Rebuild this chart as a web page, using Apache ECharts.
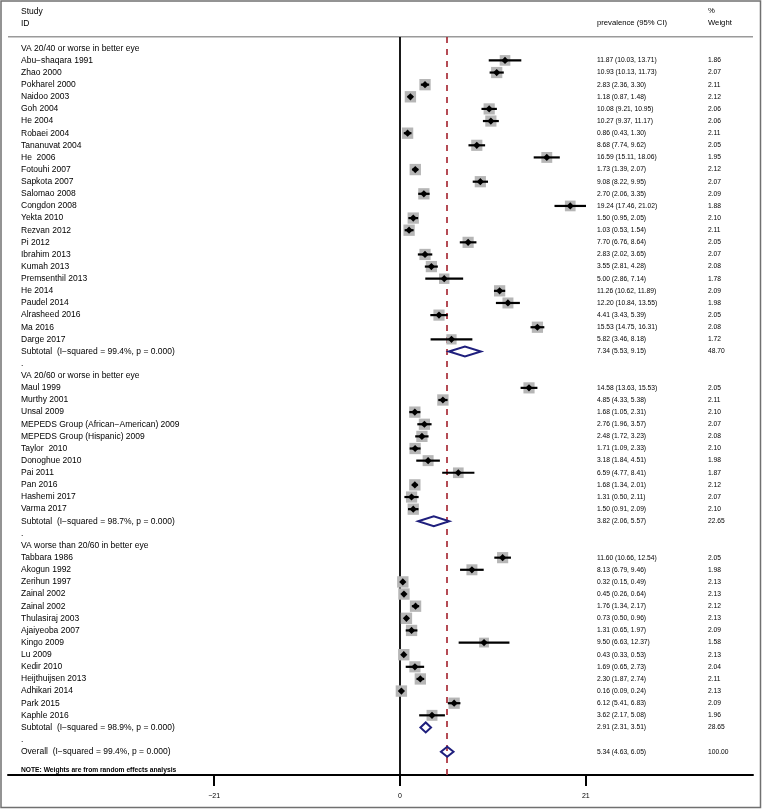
<!DOCTYPE html>
<html><head><meta charset="utf-8">
<script src="https://cdn.jsdelivr.net/npm/echarts@6/dist/echarts.min.js"></script>
<style>html,body{margin:0;padding:0;background:#fff}#c{width:762px;height:809px}</style>
</head><body><div id="c"></div>
<script>
// ---------- DATA ----------
const groupNames = ['VA 20/40 or worse in better eye', 'VA 20/60 or worse in better eye', 'VA worse than 20/60 in better eye'];

const g1Studies = ['Abu\u2212shaqara 1991','Zhao 2000','Pokharel 2000','Naidoo 2003','Goh 2004','He 2004','Robaei 2004','Tananuvat 2004','He  2006','Fotouhi 2007','Sapkota 2007','Salomao 2008','Congdon 2008','Yekta 2010','Rezvan 2012','Pi 2012','Ibrahim 2013','Kumah 2013','Premsenthil 2013','He 2014','Paudel 2014','Alrasheed 2016','Ma 2016','Darge 2017'];
const g1Est = [11.87,10.93,2.83,1.18,10.08,10.27,0.86,8.68,16.59,1.73,9.08,2.70,19.24,1.50,1.03,7.70,2.83,3.55,5.00,11.26,12.20,4.41,15.53,5.82];
const g1Lo  = [10.03,10.13,2.36,0.87,9.21,9.37,0.43,7.74,15.11,1.39,8.22,2.06,17.46,0.95,0.53,6.76,2.02,2.81,2.86,10.62,10.84,3.43,14.75,3.46];
const g1Hi  = [13.71,11.73,3.30,1.48,10.95,11.17,1.30,9.62,18.06,2.07,9.95,3.35,21.02,2.05,1.54,8.64,3.65,4.28,7.14,11.89,13.55,5.39,16.31,8.18];
const g1Wt  = [1.86,2.07,2.11,2.12,2.06,2.06,2.11,2.05,1.95,2.12,2.07,2.09,1.88,2.10,2.11,2.05,2.07,2.08,1.78,2.09,1.98,2.05,2.08,1.72];

const g2Studies = ['Maul 1999','Murthy 2001','Unsal 2009','MEPEDS Group (African\u2212American) 2009','MEPEDS Group (Hispanic) 2009','Taylor  2010','Donoghue 2010','Pai 2011','Pan 2016','Hashemi 2017','Varma 2017'];
const g2Est = [14.58,4.85,1.68,2.76,2.48,1.71,3.18,6.59,1.68,1.31,1.50];
const g2Lo  = [13.63,4.33,1.05,1.96,1.72,1.09,1.84,4.77,1.34,0.50,0.91];
const g2Hi  = [15.53,5.38,2.31,3.57,3.23,2.33,4.51,8.41,2.01,2.11,2.09];
const g2Wt  = [2.05,2.11,2.10,2.07,2.08,2.10,1.98,1.87,2.12,2.07,2.10];

const g3Studies = ['Tabbara 1986','Akogun 1992','Zerihun 1997','Zainal 2002','Zainal 2002','Thulasiraj 2003','Ajaiyeoba 2007','Kingo 2009','Lu 2009','Kedir 2010','Heijthuijsen 2013','Adhikari 2014','Park 2015','Kaphle 2016'];
const g3Est = [11.60,8.13,0.32,0.45,1.76,0.73,1.31,9.50,0.43,1.69,2.30,0.16,6.12,3.62];
const g3Lo  = [10.66,6.79,0.15,0.26,1.34,0.50,0.65,6.63,0.33,0.65,1.87,0.09,5.41,2.17];
const g3Hi  = [12.54,9.46,0.49,0.64,2.17,0.96,1.97,12.37,0.53,2.73,2.74,0.24,6.83,5.08];
const g3Wt  = [2.05,1.98,2.13,2.13,2.12,2.13,2.09,1.58,2.13,2.04,2.11,2.13,2.09,1.96];

const subEst = [7.34, 3.82, 2.91];
const subLo  = [5.53, 2.06, 2.31];
const subHi  = [9.15, 5.57, 3.51];
const subWt  = [48.70, 22.65, 28.65];
const subI2  = ['99.4', '98.7', '98.9'];
const subP   = ['0.000', '0.000', '0.000'];

const overallEst = 5.34, overallLo = 4.63, overallHi = 6.05, overallWt = 100.00, overallI2 = '99.4', overallP = '0.000';

const xTicks = [-21, 0, 21];
const noteText = 'NOTE: Weights are from random effects analysis';

// ---------- BUILD ROWS ----------
const rows = [];
function addGroup(gi, studies, est, lo, hi, wt) {
  rows.push({ label: groupNames[gi], kind: 'head' });
  studies.forEach((s, i) => rows.push({ label: s, est: est[i], lo: lo[i], hi: hi[i], wt: wt[i], kind: 'study' }));
  rows.push({ label: 'Subtotal  (I\u2212squared = ' + subI2[gi] + '%, p = ' + subP[gi] + ')', est: subEst[gi], lo: subLo[gi], hi: subHi[gi], wt: subWt[gi], kind: 'pool' });
  rows.push({ label: '.', kind: 'blank' });
}
addGroup(0, g1Studies, g1Est, g1Lo, g1Hi, g1Wt);
addGroup(1, g2Studies, g2Est, g2Lo, g2Hi, g2Wt);
addGroup(2, g3Studies, g3Est, g3Lo, g3Hi, g3Wt);
rows.push({ label: 'Overall  (I\u2212squared = ' + overallI2 + '%, p = ' + overallP + ')', est: overallEst, lo: overallLo, hi: overallHi, wt: overallWt, kind: 'pool' });

const f2 = v => v.toFixed(2);
const ciText = rows.map(r => (r.kind === 'study' || r.kind === 'pool') ? f2(r.est) + ' (' + f2(r.lo) + ', ' + f2(r.hi) + ')' : '');
const wtText = rows.map(r => (r.kind === 'study' || r.kind === 'pool') ? f2(r.wt) : '');
const rowIdx = rows.map((r, i) => i);

const seriesData = [];
rows.forEach((r, i) => {
  if (r.kind === 'study' || r.kind === 'pool') seriesData.push([r.est, i, r.lo, r.hi, r.wt, r.kind === 'pool' ? 1 : 0]);
});

// ---------- CHART ----------
const FONT = '"Liberation Sans", Arial, Helvetica, sans-serif';
const yMin = -0.93, yMax = 59.92;
const chart = echarts.init(document.getElementById('c'), null, { renderer: 'canvas' });

function yAxisBase(extra) {
  return Object.assign({
    type: 'value', inverse: true, min: yMin, max: yMax,
    axisLine: { show: false }, axisTick: { show: false }, splitLine: { show: false }
  }, extra);
}

chart.setOption({
  animation: false,
  backgroundColor: '#fff',
  grid: { left: 8, right: 9, top: 37, bottom: 34, containLabel: false },
  xAxis: {
    type: 'value', min: -44.29, max: 39.89,
    splitLine: { show: false },
    axisLine: { show: true, onZero: false, lineStyle: { color: '#000', width: 2 } },
    axisTick: { show: true, customValues: xTicks, length: 11, lineStyle: { color: '#000', width: 2 } },
    axisLabel: { show: true, customValues: xTicks, margin: 18, fontSize: 7, fontFamily: FONT, color: '#000',
      formatter: v => (v < 0 ? '\u2212' + Math.abs(v) : String(v)) }
  },
  yAxis: [
    yAxisBase({ position: 'left', axisLabel: { inside: true, margin: 13, align: 'left', customValues: rowIdx,
      formatter: v => (rows[v] ? rows[v].label : ''), fontSize: 8.5, fontFamily: FONT, color: '#000' } }),
    yAxisBase({ position: 'right', offset: -156, axisLabel: { margin: 0, align: 'left', customValues: rowIdx,
      formatter: v => ciText[v] || '', fontSize: 6.7, fontFamily: FONT, color: '#000' } }),
    yAxisBase({ position: 'right', offset: -45, axisLabel: { margin: 0, align: 'left', customValues: rowIdx,
      formatter: v => wtText[v] || '', fontSize: 6.7, fontFamily: FONT, color: '#000' } })
  ],
  series: [
    {
      type: 'line', data: [], xAxisIndex: 0, yAxisIndex: 0, z: 1,
      markLine: {
        silent: true, symbol: 'none', z: 1, animation: false,
        label: { show: false },
        data: [
          { xAxis: 0, lineStyle: { color: '#000', width: 1.8, type: 'solid' } },
          { xAxis: overallEst, lineStyle: { color: '#a3202c', width: 1.6, type: [6, 6] } }
        ]
      }
    },
    {
      type: 'custom', z: 3, xAxisIndex: 0, yAxisIndex: 0,
      dimensions: ['est', 'row', 'lo', 'hi', 'wt', 'pool'],
      encode: { x: 0, y: 1 },
      data: seriesData,
      renderItem: function (params, api) {
        const est = api.value(0), row = api.value(1), lo = api.value(2), hi = api.value(3), wt = api.value(4), pool = api.value(5);
        const c = api.coord([est, row]), l = api.coord([lo, row]), h = api.coord([hi, row]);
        if (pool) {
          return { type: 'polygon', shape: { points: [[l[0], c[1]], [c[0], c[1] - 5], [h[0], c[1]], [c[0], c[1] + 5]] },
            style: { fill: 'none', stroke: '#1f1f7d', lineWidth: 2 } };
        }
        const s = 11.3 * Math.sqrt(wt / 2.1);
        const d = 3.6;
        return { type: 'group', children: [
          { type: 'rect', shape: { x: c[0] - s / 2, y: c[1] - s / 2, width: s, height: s }, style: { fill: '#b6b6b6' } },
          { type: 'line', shape: { x1: l[0], y1: c[1], x2: h[0], y2: c[1] }, style: { stroke: '#000', lineWidth: 2.2 } },
          { type: 'polygon', shape: { points: [[c[0] - d, c[1]], [c[0], c[1] - d], [c[0] + d, c[1]], [c[0], c[1] + d]] }, style: { fill: '#000' } }
        ] };
      }
    }
  ],
  graphic: [
    { type: 'rect', shape: { x: 1, y: 1, width: 759.5, height: 806.5 }, style: { fill: 'none', stroke: '#707070', lineWidth: 1.5 }, z: 0 },
    { type: 'line', shape: { x1: 8, y1: 36.7, x2: 753, y2: 36.7 }, style: { stroke: '#9a9a9a', lineWidth: 1.5 } },
    { type: 'text', x: 21, y: 11.7, style: { text: 'Study', font: '8.5px ' + FONT, fill: '#000', verticalAlign: 'middle' } },
    { type: 'text', x: 21, y: 24, style: { text: 'ID', font: '8.5px ' + FONT, fill: '#000', verticalAlign: 'middle' } },
    { type: 'text', x: 597, y: 23.3, style: { text: 'prevalence (95% CI)', font: '7.7px ' + FONT, fill: '#000', verticalAlign: 'middle' } },
    { type: 'text', x: 708, y: 11, style: { text: '%', font: '7.7px ' + FONT, fill: '#000', verticalAlign: 'middle' } },
    { type: 'text', x: 708, y: 23.3, style: { text: 'Weight', font: '7.7px ' + FONT, fill: '#000', verticalAlign: 'middle' } },
    { type: 'text', x: 21, y: 770, style: { text: noteText, font: 'bold 6.7px ' + FONT, fill: '#000', verticalAlign: 'middle' } }
  ]
});
</script>
</body></html>
